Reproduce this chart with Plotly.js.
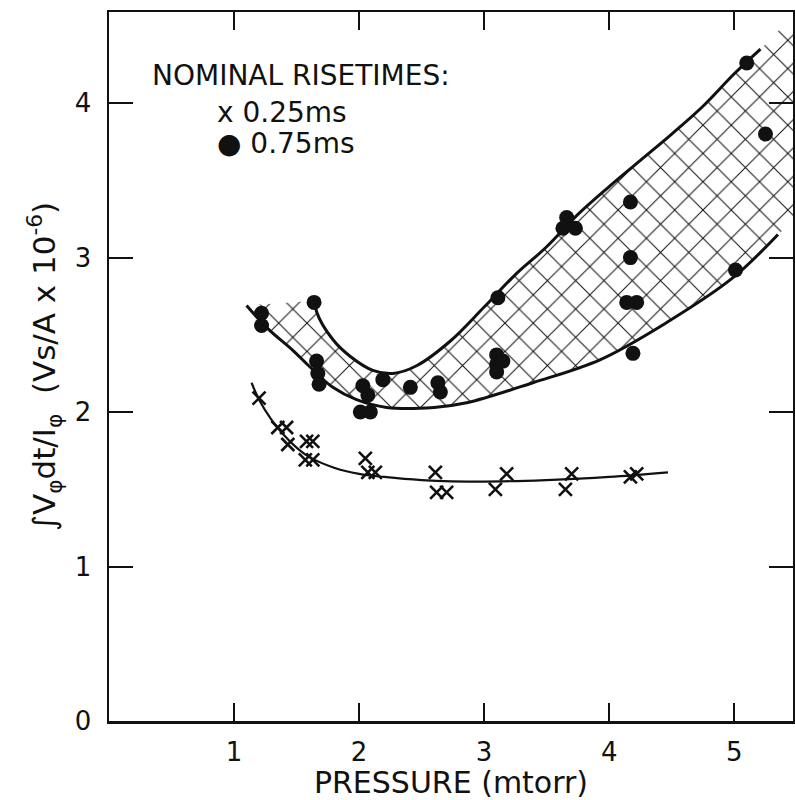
<!DOCTYPE html>
<html>
<head>
<meta charset="utf-8">
<script src="https://cdn.plot.ly/plotly-3.0.1.min.js"></script>
<style>html,body{margin:0;padding:0;background:#fff;}#chart{width:795px;height:800px;}</style>
</head>
<body>
<div id="chart"></div>
<script>
// 0.75 ms risetime data (filled circles)
var dotX = [1.22,1.22,1.64,1.66,1.67,1.68,2.03,2.07,2.01,2.09,2.19,2.41,2.63,2.65,3.10,3.10,3.10,3.15,3.11,3.66,3.63,3.73,4.17,4.17,4.14,4.22,4.19,5.01,5.10,5.25];
var dotY = [2.64,2.56,2.71,2.33,2.25,2.18,2.17,2.11,2.00,2.00,2.21,2.16,2.19,2.13,2.37,2.31,2.26,2.33,2.74,3.26,3.19,3.19,3.36,3.00,2.71,2.71,2.38,2.92,4.26,3.80];

// 0.25 ms risetime data (crosses)
var crossX = [1.20,1.35,1.42,1.43,1.58,1.63,1.57,1.63,2.05,2.07,2.13,2.61,2.62,2.70,3.18,3.09,3.70,3.65,4.17,4.22];
var crossY = [2.09,1.90,1.90,1.79,1.81,1.81,1.69,1.69,1.70,1.61,1.61,1.61,1.48,1.48,1.60,1.50,1.60,1.50,1.58,1.60];

// curve through the 0.25 ms data
var fitX = [1.14,1.20,1.30,1.40,1.50,1.60,1.80,2.00,2.20,2.50,3.00,3.50,4.00,4.47];
var fitY = [2.19,2.08,1.95,1.85,1.77,1.71,1.64,1.60,1.58,1.56,1.55,1.56,1.58,1.61];

// hatched band for the 0.75 ms data
var lowerX = [1.10,1.27,1.47,1.61,1.79,1.98,2.22,2.60,2.86,3.39,3.93,4.46,4.99,5.35,5.47];
var lowerY = [2.69,2.54,2.40,2.29,2.16,2.08,2.03,2.03,2.06,2.19,2.34,2.58,2.87,3.15,3.25];
var upperX = [1.65,1.66,1.79,1.93,2.11,2.27,2.46,2.73,3.00,3.25,3.50,3.75,4.00,4.25,4.50,4.75,5.00,5.21,5.47];
var upperY = [2.72,2.65,2.47,2.36,2.27,2.25,2.30,2.46,2.68,2.89,3.07,3.28,3.46,3.63,3.80,3.98,4.19,4.35,4.52];

var xTicks = [1,2,3,4,5];
var yTicks = [0,1,2,3,4];

var FONT = "DejaVu Sans, Liberation Sans, sans-serif";

var bandX = lowerX.concat(upperX.slice().reverse());
var bandY = lowerY.concat(upperY.slice().reverse());

function cut(xs, ys, xmax){
  var ox=[], oy=[];
  for (var i=0;i<xs.length;i++){ if (xs[i]<=xmax){ ox.push(xs[i]); oy.push(ys[i]); } }
  return [ox, oy];
}
var lowCut = cut(lowerX, lowerY, 5.40);
var upCut = cut(upperX, upperY, 5.22);

var traces = [
  {x: bandX, y: bandY, type:'scatter', mode:'lines', fill:'toself', fillcolor:'rgba(0,0,0,0)',
   line:{width:0, color:'rgba(0,0,0,0)', shape:'spline'},
   fillpattern:{shape:'x', size:20, solidity:0.1, fgcolor:'#111', bgcolor:'rgba(255,255,255,0)'},
   hoverinfo:'skip', showlegend:false},
  {x: lowCut[0], y: lowCut[1], type:'scatter', mode:'lines', line:{color:'#111', width:3, shape:'spline'}, showlegend:false},
  {x: upCut[0], y: upCut[1], type:'scatter', mode:'lines', line:{color:'#111', width:3, shape:'spline'}, showlegend:false},
  {x: fitX, y: fitY, type:'scatter', mode:'lines', line:{color:'#111', width:2.2, shape:'spline'}, showlegend:false},
  {x: dotX, y: dotY, type:'scatter', mode:'markers', name:'0.75 ms',
   marker:{symbol:'circle', size:15, color:'#111'}, showlegend:false},
  {x: crossX, y: crossY, type:'scatter', mode:'markers', name:'0.25 ms',
   marker:{symbol:'x-thin-open', size:13, color:'#111', line:{color:'#111', width:2.6}}, showlegend:false}
];

var layout = {
  width:795, height:800,
  margin:{l:109, r:2, t:12, b:79},
  paper_bgcolor:'#fff', plot_bgcolor:'#fff',
  font:{family:FONT, color:'#111', size:24},
  showlegend:false,
  xaxis:{range:[0,5.47], tickvals:xTicks, ticktext:xTicks.map(String),
    ticks:'inside', ticklen:18, tickwidth:2, tickcolor:'#111',
    showline:true, linewidth:2.5, linecolor:'#111', mirror:'ticks',
    showgrid:false, zeroline:false, ticklabelstandoff:6,
    tickfont:{family:FONT, size:26, color:'#111'},
    title:{text:'PRESSURE (mtorr)', font:{family:FONT, size:30, color:'#111'}, standoff:6}},
  yaxis:{range:[0,4.59], tickvals:yTicks, ticktext:yTicks.map(String),
    ticks:'inside', ticklen:24, tickwidth:2, tickcolor:'#111',
    showline:true, linewidth:2.5, linecolor:'#111', mirror:'ticks',
    showgrid:false, zeroline:false, ticklabelstandoff:10,
    tickfont:{family:FONT, size:26, color:'#111'},
    title:{text:'∫V<sub>φ</sub>dt/I<sub>φ</sub>  (Vs/A x 10<sup>-6</sup>)', font:{family:FONT, size:31, color:'#111'}, standoff:10}},
  annotations:[
    {xref:'paper', yref:'paper', x:0.06, y:0.911, xanchor:'left', yanchor:'middle', showarrow:false,
     text:'NOMINAL RISETIMES:', font:{family:FONT, size:28, color:'#111'}},
    {xref:'paper', yref:'paper', x:0.155, y:0.858, xanchor:'left', yanchor:'middle', showarrow:false,
     text:'x 0.25ms', font:{family:FONT, size:28, color:'#111'}},
    {xref:'paper', yref:'paper', x:0.155, y:0.814, xanchor:'left', yanchor:'middle', showarrow:false,
     text:'● 0.75ms', font:{family:FONT, size:28, color:'#111'}}
  ]
};

Plotly.newPlot('chart', traces, layout, {staticPlot:true, displayModeBar:false});
</script>
</body>
</html>
